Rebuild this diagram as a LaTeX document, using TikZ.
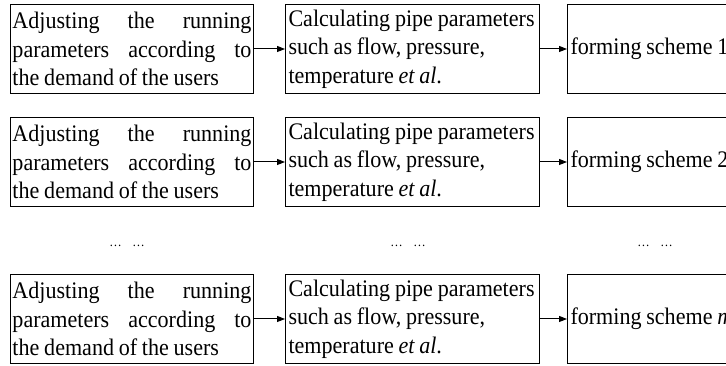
\documentclass[tikz,border=0pt]{standalone}
\usepackage{fontspec}
\setmainfont[FakeStretch=0.93]{Liberation Serif}
\usetikzlibrary{arrows.meta}
\newcommand\myboxfont{\fontsize{17.8pt}{21.4pt}\selectfont}
\newcommand\mytightspace{\spaceskip=0.2em plus 0.6em minus 0.05em\relax}
\begin{document}
\hyphenpenalty=10000
\begin{tikzpicture}[x=0.75pt,y=-0.75pt,
  box/.style={draw, line width=0.75pt, anchor=north west, minimum height=66.75pt,
    font=\myboxfont, execute at begin node=\mytightspace, inner ysep=0pt},
  boxa/.style={box, minimum width=182.25pt, inner xsep=1.5pt, text width=179.25pt, align=justify},
  boxb/.style={box, minimum width=190.5pt, inner xsep=2.25pt, text width=186pt, align=left},
  boxc/.style={box, minimum width=135pt, inner xsep=2.25pt, text width=130.5pt, align=left},
  conn/.style={line width=0.75pt, -{Triangle[length=6pt,width=4.5pt]}},
  dots/.style={font=\fontsize{10pt}{12pt}\selectfont, inner sep=0pt}
]
\useasboundingbox (0,0) rectangle (726,366);
\foreach \r/\y/\s in {1/4/1, 2/117/2, 3/274/{\textit{m}}} {
  \node[boxa] (a\r) at (10,\y) {Adjusting the running\linebreak parameters according to\linebreak the demand of the users};
  \node[boxb] (b\r) at (285,\y) {\mbox{Calculating pipe parameters}\\ such as flow, pressure,\\ temperature \textit{et al}.};
  \node[boxc] (c\r) at (567,\y) {\mbox{forming scheme \s}};
  \draw[conn] (a\r) -- (b\r);
  \draw[conn] (b\r) -- (c\r.west);
}
\node[dots] (d1) at (127,246) {…\hspace{8pt}…};
\node[dots] (d2) at (408,246) {…\hspace{8pt}…};
\node[dots] (d3) at (655,246) {…\hspace{8pt}…};
\end{tikzpicture}
\end{document}
